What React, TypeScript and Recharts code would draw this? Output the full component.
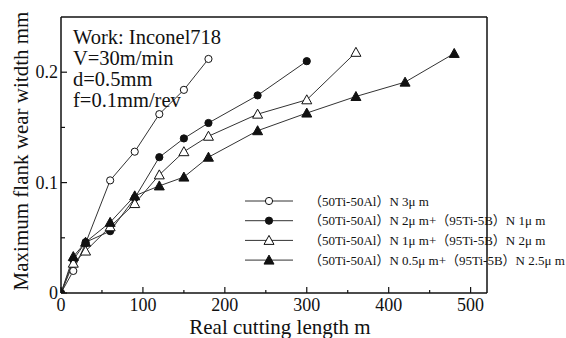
import { LineChart, Line, XAxis, YAxis, ReferenceLine } from 'recharts'

const FONT = '"Liberation Serif", "Times New Roman", "Noto Sans CJK SC", serif'
const INK = '#111'

// cutting length (m) and flank wear (mm) per coating
const LEN_A = [0, 15, 30, 60, 90, 120, 150, 180]
const WEAR_A = [0, 0.02, 0.045, 0.102, 0.128, 0.162, 0.184, 0.212]
const LEN_B = [0, 15, 30, 60, 90, 120, 150, 180, 240, 300]
const WEAR_B = [0, 0.03, 0.046, 0.056, 0.086, 0.123, 0.14, 0.154, 0.179, 0.21]
const LEN_C = [0, 15, 30, 60, 90, 120, 150, 180, 240, 300, 360]
const WEAR_C = [0, 0.027, 0.038, 0.06, 0.081, 0.107, 0.128, 0.142, 0.162, 0.175, 0.218]
const LEN_D = [0, 15, 30, 60, 90, 120, 150, 180, 240, 300, 360, 420, 480]
const WEAR_D = [0, 0.033, 0.046, 0.064, 0.088, 0.097, 0.105, 0.123, 0.147, 0.163, 0.178, 0.191, 0.217]

const X_TICKS = [0, 50, 100, 150, 200, 250, 300, 350, 400, 450, 500]
const Y_TICKS = [0, 0.05, 0.1, 0.15, 0.2]

const LEGEND = [
  '（50Ti-50Al）N 3μ m',
  '（50Ti-50Al）N 2μ m+（95Ti-5B）N 1μ m',
  '（50Ti-50Al）N 1μ m+（95Ti-5B）N 2μ m',
  '（50Ti-50Al）N 0.5μ m+（95Ti-5B）N 2.5μ m',
]
const NOTES = ['Work: Inconel718', 'V=30m/min', 'd=0.5mm', 'f=0.1mm/rev']

const toPoints = (xs: number[], ys: number[]) => xs.map((x, i) => ({ x, y: ys[i] }))

type Kind = 'circle' | 'triangle'

function Marker({ cx, cy, kind, filled }: { cx: number; cy: number; kind: Kind; filled: boolean }) {
  const fill = filled ? INK : '#fff'
  if (kind === 'circle') {
    return <circle cx={cx} cy={cy} r={3.6} fill={fill} stroke={INK} strokeWidth={1} />
  }
  const s = 5
  return (
    <polygon
      points={`${cx},${cy - s} ${cx - s},${cy + s * 0.8} ${cx + s},${cy + s * 0.8}`}
      fill={fill}
      stroke={INK}
      strokeWidth={1}
    />
  )
}

const dot = (kind: Kind, filled: boolean) => (props: any) => (
  <Marker key={`${kind}-${filled}-${props.index}`} cx={props.cx} cy={props.cy} kind={kind} filled={filled} />
)

const SERIES = [
  { data: toPoints(LEN_A, WEAR_A), kind: 'circle' as Kind, filled: false },
  { data: toPoints(LEN_B, WEAR_B), kind: 'circle' as Kind, filled: true },
  { data: toPoints(LEN_C, WEAR_C), kind: 'triangle' as Kind, filled: false },
  { data: toPoints(LEN_D, WEAR_D), kind: 'triangle' as Kind, filled: true },
]

function XTick({ x, y, payload }: any) {
  const major = payload.value % 100 === 0
  return (
    <g>
      <line x1={x} x2={x} y1={y} y2={y - (major ? 6 : 3)} stroke={INK} strokeWidth={1.2} />
      {major && (
        <text x={x} y={y + 18} textAnchor="middle" fontSize={18} fontFamily={FONT} fill={INK}>
          {payload.value}
        </text>
      )}
    </g>
  )
}

function YTick({ x, y, payload }: any) {
  const v = payload.value
  const major = Math.round(v * 100) % 10 === 0
  return (
    <g>
      <line x1={x} x2={x + (major ? 6 : 4)} y1={y} y2={y} stroke={INK} strokeWidth={1.2} />
      {major && (
        <text x={x - 3} y={y + 6} textAnchor="end" fontSize={18} fontFamily={FONT} fill={INK}>
          {v === 0 ? '0' : v.toFixed(1)}
        </text>
      )}
    </g>
  )
}

export default function App() {
  return (
    <div style={{ position: 'absolute', left: 0, top: 0, width: 566, height: 338, background: '#fff' }}>
      <LineChart width={566} height={338} data={SERIES[3].data} margin={{ top: 17, right: 79, bottom: 0, left: 0 }}>
        <XAxis
          type="number"
          dataKey="x"
          domain={[0, 520]}
          ticks={X_TICKS}
          tick={<XTick />}
          tickLine={false}
          tickSize={0}
          tickMargin={0}
          height={45}
          axisLine={{ stroke: INK, strokeWidth: 1.5 }}
          allowDataOverflow
        />
        <YAxis
          type="number"
          dataKey="y"
          domain={[0, 0.25]}
          ticks={Y_TICKS}
          tick={<YTick />}
          tickLine={false}
          tickSize={0}
          tickMargin={0}
          width={61}
          axisLine={{ stroke: INK, strokeWidth: 1.5 }}
          allowDataOverflow
        />
        <ReferenceLine y={0.25} stroke={INK} strokeWidth={1.5} />
        <ReferenceLine x={520} stroke={INK} strokeWidth={1.5} />
        {SERIES.map((s, i) => (
          <Line
            key={i}
            data={s.data}
            dataKey="y"
            type="linear"
            stroke="#333"
            strokeWidth={1}
            dot={dot(s.kind, s.filled)}
            activeDot={false}
            isAnimationActive={false}
          />
        ))}
      </LineChart>
      <svg
        width={566}
        height={338}
        style={{ position: 'absolute', left: 0, top: 0, pointerEvents: 'none' }}
        fontFamily={FONT}
        fill={INK}
      >
        {NOTES.map((t, i) => (
          <text key={t} x={73} y={44 + i * 21} fontSize={20.5}>
            {t}
          </text>
        ))}
        {LEGEND.map((t, i) => {
          const y = 201 + i * 19.7
          const s = SERIES[i]
          return (
            <g key={t}>
              <line x1={245} x2={293} y1={y} y2={y} stroke="#333" strokeWidth={1} />
              <Marker cx={269} cy={y} kind={s.kind} filled={s.filled} />
              <text x={309} y={y + 4.5} fontSize={13}>
                {t}
              </text>
            </g>
          )
        })}
        <text transform="translate(21,151) rotate(-90)" textAnchor="middle" fontSize={21} dominantBaseline="central">
          Maximum flank wear witdth mm
        </text>
        <text x={280} y={334} textAnchor="middle" fontSize={21}>
          Real cutting length m
        </text>
      </svg>
    </div>
  )
}
